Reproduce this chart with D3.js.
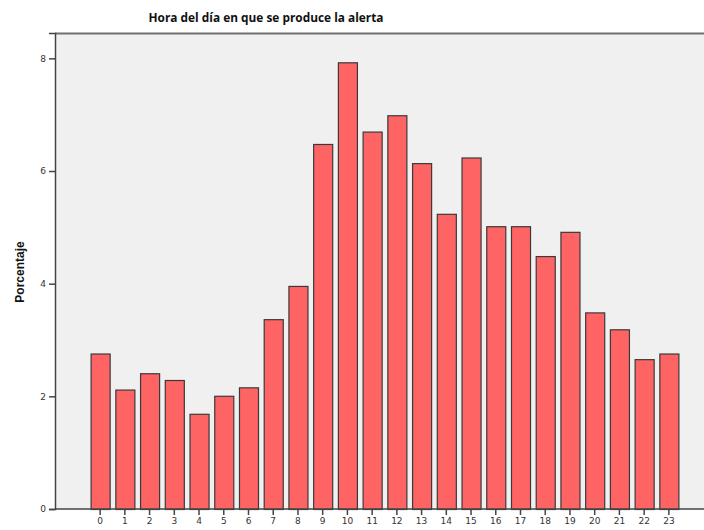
<!DOCTYPE html>
<html>
<head>
<meta charset="utf-8">
<script src="https://cdn.jsdelivr.net/npm/d3@7"></script>
<style>
  body { margin: 0; background: #fff; }
  svg { display: block; }
</style>
</head>
<body>
<script>
const width = 704
const height = 530

// hour of day and share of alerts (%)
const hours = ["0","1","2","3","4","5","6","7","8","9","10","11","12","13","14","15","16","17","18","19","20","21","22","23"]
const percent = [2.76, 2.12, 2.41, 2.29, 1.69, 2.01, 2.16, 3.37, 3.96, 6.48, 7.93, 6.70, 6.99, 6.14, 5.24, 6.24, 5.02, 5.02, 4.49, 4.92, 3.49, 3.19, 2.66, 2.76]
const yTicks = [0, 2, 4, 6, 8]

const plot = { left: 55, right: 714, top: 33, bottom: 509 }

const svg = d3.select("body").append("svg")
  .attr("width", width)
  .attr("height", height)

const x = d3.scaleBand()
  .domain(hours)
  .range([plot.left, plot.right])
  .paddingInner(0.23)
  .paddingOuter(1.44)

const y = d3.scaleLinear()
  .domain([0, 8.45])
  .range([plot.bottom, plot.top])

// plot background
svg.append("rect")
  .attr("x", plot.left)
  .attr("y", plot.top)
  .attr("width", plot.right - plot.left)
  .attr("height", plot.bottom - plot.top)
  .attr("fill", "#f0f0f0")

svg.append("line")
  .attr("x1", plot.left).attr("x2", plot.right)
  .attr("y1", plot.top + 0.5).attr("y2", plot.top + 0.5)
  .attr("stroke", "#707070")
  .attr("stroke-width", 2)

// bars
svg.append("g")
  .selectAll("rect")
  .data(percent)
  .join("rect")
  .attr("x", (d, i) => x(hours[i]) + 0.5)
  .attr("y", d => y(d) + 0.5)
  .attr("width", x.bandwidth())
  .attr("height", d => y(0) - y(d))
  .attr("fill", "#fe6464")
  .attr("stroke", "#3a3a3a")
  .attr("stroke-width", 1.2)

// axes
const yAxis = svg.append("g")
  .attr("transform", `translate(${plot.left},0)`)
  .call(d3.axisLeft(y).tickValues(yTicks).tickSize(6).tickPadding(3))
yAxis.select(".domain").attr("stroke", "#444").attr("stroke-width", 1.5)
yAxis.selectAll(".tick line").attr("stroke", "#444").attr("stroke-width", 1.5)
yAxis.selectAll("text")
  .attr("font-family", "DejaVu Sans")
  .attr("font-size", 9)
  .attr("fill", "#333")

const xAxis = svg.append("g")
  .attr("transform", `translate(0,${plot.bottom})`)
  .call(d3.axisBottom(x).tickSize(6).tickPadding(3).tickSizeOuter(0))
xAxis.select(".domain").attr("stroke", "#444").attr("stroke-width", 1.5)
  .attr("d", `M${plot.left},0H${plot.right}`)
xAxis.selectAll(".tick line").attr("stroke", "#444").attr("stroke-width", 1.5)
xAxis.selectAll("text")
  .attr("font-family", "DejaVu Sans")
  .attr("font-size", 9)
  .attr("fill", "#333")

// title and axis label
svg.append("text")
  .attr("x", 266)
  .attr("y", 22)
  .attr("text-anchor", "middle")
  .attr("font-family", "Open Sans")
  .attr("font-weight", "bold")
  .attr("font-size", 13)
  .attr("textLength", 235)
  .attr("lengthAdjust", "spacingAndGlyphs")
  .attr("fill", "#111")
  .text("Hora del día en que se produce la alerta")

svg.append("text")
  .attr("transform", "translate(24,272) rotate(-90)")
  .attr("text-anchor", "middle")
  .attr("font-family", "Liberation Sans")
  .attr("font-weight", "bold")
  .attr("font-size", 12)
  .attr("fill", "#111")
  .text("Porcentaje")
</script>
</body>
</html>
